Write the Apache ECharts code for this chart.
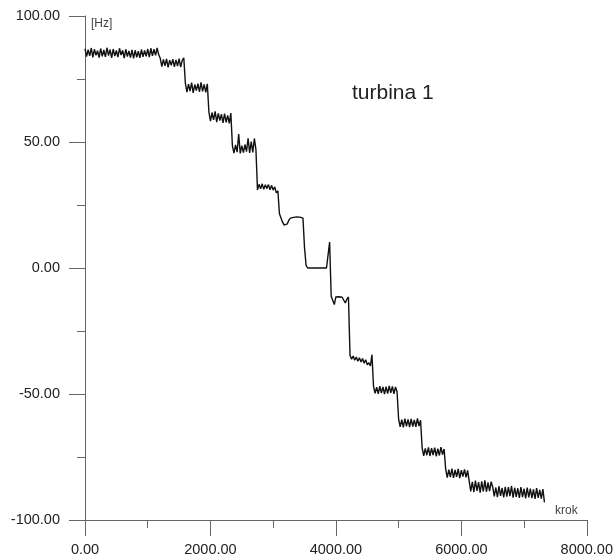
<!DOCTYPE html>
<html>
<head>
    <meta charset="utf-8">
    <title>turbina 1</title>
    <script src="https://cdn.jsdelivr.net/npm/echarts@6/dist/echarts.min.js"></script>
    <style>
        html, body { margin: 0; padding: 0; background: #fff; }
    </style>
</head>
<body>
    <div id="main" style="width: 616px;height:560px;"></div>
    <script type="text/javascript">
        // probki co 25 krokow, kazdy odcinek zaczyna sie od segStart[j]
        var krokStep = 25;
        var segStart = [0, 1200, 1600, 1975, 2350, 2750, 3100, 3500, 3900, 4225, 4600, 5000, 5375, 5750, 6125, 6500];

        var seg1 = [87.0, 83.9, 86.6, 84.2, 87.3, 83.6, 86.8, 84.4, 86.2, 83.5, 87.1, 84.0, 86.5, 83.8, 87.4, 84.3,
                    86.7, 83.4, 86.9, 84.1, 86.3, 83.7, 87.2, 84.5, 86.4, 83.3, 86.8, 83.9, 86.1, 83.5, 86.6, 83.2,
                    86.4, 83.6, 86.0, 83.4, 86.7, 83.8, 86.3, 84.0, 86.9, 83.7, 87.2, 84.2, 86.8, 84.4, 87.3, 84.6];
        var seg2 = [83.2, 79.9, 82.8, 80.2, 83.0, 79.6, 82.5, 80.4, 82.9, 79.8, 82.6, 80.1, 83.1, 79.7, 82.4, 83.4];
        var seg3 = [73.4, 69.8, 73.0, 70.2, 73.6, 69.5, 72.8, 70.4, 73.2, 69.9, 73.7, 70.1, 72.9, 69.7, 73.1];
        var seg4 = [62.0, 58.3, 61.7, 58.8, 62.2, 57.9, 61.4, 58.5, 61.0, 57.6, 61.3, 57.8, 60.6, 57.4, 61.5];
        var seg5 = [48.5, 45.6, 48.9, 46.0, 53.2, 45.5, 48.6, 45.8, 49.0, 46.2, 51.5, 45.7, 50.2, 45.9, 51.4, 47.0];
        var seg6 = [31.0, 33.2, 31.4, 33.4, 31.2, 33.0, 31.5, 33.1, 31.0, 32.8, 30.9, 32.2, 29.8, 30.6];
        var seg7 = [21.5, 19.8, 18.2, 17.0, 16.8, 17.5, 19.0, 19.8, 20.3, 20.1, 20.7, 20.3, 20.8, 20.2, 20.6, 19.8];
        var seg8 = [8.0, 1.0, 0, 0, 0, 0, 0, 0, 0, 0, 0, 0, 0, 0, 0, 0];
        var seg9 = [10.3, -11.2, -11.8, -14.5, -11.5, -10.8, -11.4, -10.9, -11.6, -11.2, -13.9, -12.4, -11.5];
        var seg10 = [-34.6, -36.2, -34.9, -36.6, -35.3, -37.0, -35.6, -37.3, -35.9, -37.8, -36.4, -38.4, -37.6, -38.9, -34.4];
        var seg11 = [-47.0, -49.7, -47.3, -49.9, -46.9, -49.6, -47.2, -50.0, -47.1, -49.8, -46.8, -49.5, -47.0, -49.9, -47.2, -49.1];
        var seg12 = [-60.0, -63.0, -60.2, -63.2, -59.8, -62.8, -60.1, -63.1, -59.9, -62.9, -60.3, -63.0, -59.7, -62.7, -60.4];
        var seg13 = [-71.4, -74.5, -71.6, -74.3, -71.2, -74.6, -71.5, -74.2, -71.3, -74.7, -71.7, -74.4, -71.1, -74.0, -71.8];
        var seg14 = [-79.8, -83.2, -80.0, -83.0, -79.6, -83.3, -80.1, -82.9, -79.7, -83.4, -80.2, -82.8, -79.9, -83.1, -80.3];
        var seg15 = [-84.6, -88.6, -84.9, -88.9, -84.4, -88.4, -85.0, -89.1, -84.7, -88.7, -84.3, -88.8, -85.1, -88.5, -84.8];
        var seg16 = [-86.9, -90.6, -87.1, -90.9, -86.6, -90.4, -87.3, -91.0, -86.8, -90.7, -87.0, -90.5, -86.5, -91.1, -87.2, -90.8,
                     -87.4, -91.2, -86.9, -90.9, -87.6, -91.4, -87.1, -91.0, -87.5, -91.3, -87.8, -91.6, -87.3, -91.2, -88.0, -91.5,
                     -87.7, -93.0];

        var xTicks = [0, 8000, 2000];   // min, max, interval
        var yTicks = [-100, 100, 50];

        var segs = [seg1, seg2, seg3, seg4, seg5, seg6, seg7, seg8, seg9, seg10, seg11, seg12, seg13, seg14, seg15, seg16];
        var data = [];
        segs.forEach(function (s, j) {
            s.forEach(function (v, k) {
                data.push([segStart[j] + k * krokStep, v]);
            });
        });

        var axisColor = '#666';
        var labelStyle = {
            color: '#222',
            fontFamily: 'Liberation Sans, Arial, sans-serif',
            fontSize: 14.5,
            formatter: function (v) { return v.toFixed(2); }
        };

        var myChart = echarts.init(document.getElementById('main'));

        var option = {
            animation: false,
            backgroundColor: '#fff',
            grid: { left: 85, right: 29, top: 16, bottom: 40 },
            xAxis: {
                type: 'value',
                min: xTicks[0], max: xTicks[1], interval: xTicks[2],
                axisLine: { show: true, onZero: false, lineStyle: { color: axisColor, width: 1 } },
                axisTick: { show: true, length: 16, lineStyle: { color: axisColor, width: 1 } },
                minorTick: { show: true, splitNumber: 2, length: 8, lineStyle: { color: axisColor } },
                splitLine: { show: false },
                axisLabel: Object.assign({ margin: 22 }, labelStyle)
            },
            yAxis: {
                type: 'value',
                min: yTicks[0], max: yTicks[1], interval: yTicks[2],
                axisLine: { show: true, onZero: false, lineStyle: { color: axisColor, width: 1 } },
                axisTick: { show: true, length: 16, lineStyle: { color: axisColor, width: 1 } },
                minorTick: { show: true, splitNumber: 2, length: 8, lineStyle: { color: axisColor } },
                splitLine: { show: false },
                axisLabel: Object.assign({ margin: 25 }, labelStyle)
            },
            graphic: [
                { type: 'text', left: 352, top: 83,
                  style: { text: 'turbina 1', fill: '#222', font: '21px Liberation Sans, Arial, sans-serif' } },
                { type: 'text', left: 91, top: 18,
                  style: { text: '[Hz]', fill: '#444', font: '12px Liberation Sans, Arial, sans-serif' } },
                { type: 'text', left: 555, top: 505,
                  style: { text: 'krok', fill: '#444', font: '12px Liberation Sans, Arial, sans-serif' } }
            ],
            series: [
                {
                    type: 'line',
                    data: data,
                    symbol: 'none',
                    lineStyle: { color: '#111', width: 1.4 }
                }
            ]
        };
        myChart.setOption(option);
    </script>
</body>
</html>
